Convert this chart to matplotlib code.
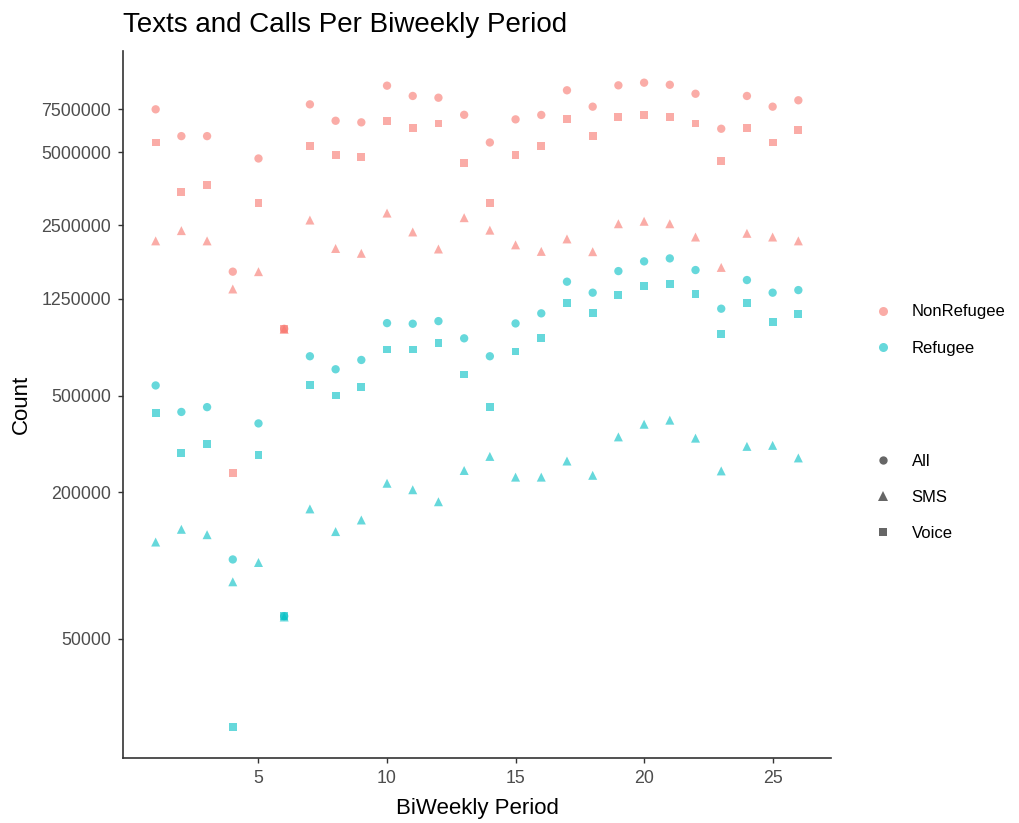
import matplotlib as mpl
mpl.use('Agg')
import matplotlib.pyplot as plt
from matplotlib.lines import Line2D

plt.rcParams['font.family'] = ['Liberation Sans', 'DejaVu Sans']

periods = list(range(1, 27))

# NonRefugee
nonref_all = [7.5e6, 5.82e6, 5.82e6, 1.614e6, 4.71e6, 9.4e5, 7.86e6, 6.73e6, 6.63e6, 9.38e6,
              8.51e6, 8.37e6, 7.12e6, 5.48e6, 6.82e6, 7.11e6, 8.98e6, 7.69e6, 9.41e6, 9.65e6,
              9.46e6, 8.69e6, 6.24e6, 8.51e6, 7.69e6, 8.17e6]
nonref_voice = [5.48e6, 3.42e6, 3.67e6, 2.41e5, 3.09e6, 9.4e5, 5.31e6, 4.88e6, 4.79e6, 6.71e6,
                6.30e6, 6.56e6, 4.51e6, 3.09e6, 4.88e6, 5.28e6, 6.84e6, 5.82e6, 6.97e6, 7.12e6,
                6.99e6, 6.56e6, 4.59e6, 6.30e6, 5.48e6, 6.18e6]
nonref_sms = [2.16e6, 2.38e6, 2.16e6, 1.37e6, 1.614e6, 9.35e5, 2.63e6, 2.01e6, 1.92e6, 2.81e6,
              2.35e6, 2.00e6, 2.69e6, 2.39e6, 2.08e6, 1.955e6, 2.20e6, 1.95e6, 2.54e6, 2.60e6,
              2.54e6, 2.24e6, 1.68e6, 2.32e6, 2.24e6, 2.16e6]

# Refugee
ref_all = [5.50e5, 4.28e5, 4.48e5, 1.06e5, 3.84e5, 6.2e4, 7.25e5, 6.41e5, 7.00e5, 9.92e5,
           9.86e5, 1.011e6, 8.59e5, 7.25e5, 9.89e5, 1.088e6, 1.468e6, 1.323e6, 1.623e6, 1.779e6,
           1.830e6, 1.639e6, 1.137e6, 1.491e6, 1.323e6, 1.356e6]
ref_voice = [4.24e5, 2.90e5, 3.16e5, 2.17e4, 2.84e5, 6.2e4, 5.53e5, 5.00e5, 5.42e5, 7.73e5,
             7.73e5, 8.20e5, 6.10e5, 4.47e5, 7.58e5, 8.59e5, 1.204e6, 1.088e6, 1.298e6, 1.404e6,
             1.431e6, 1.31e6, 8.92e5, 1.204e6, 1.006e6, 1.085e6]
ref_sms = [1.25e5, 1.41e5, 1.34e5, 8.58e4, 1.03e5, 6.15e4, 1.71e5, 1.38e5, 1.54e5, 2.18e5,
           2.05e5, 1.83e5, 2.46e5, 2.81e5, 2.31e5, 2.31e5, 2.69e5, 2.35e5, 3.38e5, 3.81e5,
           3.96e5, 3.34e5, 2.45e5, 3.09e5, 3.12e5, 2.77e5]

y_ticks = [50000, 200000, 500000, 1250000, 2500000, 5000000, 7500000]
x_ticks = [5, 10, 15, 20, 25]

red = '#F8766D'
teal = '#00BFC4'
alpha = 0.6
sizes = {'o': 36, '^': 42, 's': 32}

fig = plt.figure(figsize=(10.2, 8.23), dpi=100)
ax = fig.add_axes([0.1206, 0.079, 0.8147 - 0.1206, 0.9384 - 0.079])

series = [
    (nonref_all, red, 'o'), (nonref_sms, red, '^'), (nonref_voice, red, 's'),
    (ref_all, teal, 'o'), (ref_sms, teal, '^'), (ref_voice, teal, 's'),
]
for vals, col, mk in series:
    ax.scatter(periods, vals, color=col, marker=mk, s=sizes[mk], alpha=alpha,
               edgecolors='none', zorder=3)

ax.set_yscale('log')
ax.set_ylim(16200, 1.306e7)
ax.set_xlim(-0.27, 27.27)
ax.set_yticks(y_ticks)
ax.set_yticklabels([str(v) for v in y_ticks])
ax.yaxis.set_minor_locator(mpl.ticker.NullLocator())
ax.set_xticks(x_ticks)

for s in ['top', 'right']:
    ax.spines[s].set_visible(False)
for s in ['left', 'bottom']:
    ax.spines[s].set_color('#333333')
    ax.spines[s].set_linewidth(1.2)
ax.tick_params(axis='both', colors='#333333', labelcolor='#4D4D4D', labelsize=12.8,
               length=3.5, width=1.0, pad=5)

ax.set_xlabel('BiWeekly Period', fontsize=16, labelpad=8)
ax.set_ylabel('Count', fontsize=16, labelpad=7)
fig.text(0.1206, 1 - 31.5 / 823, 'Texts and Calls Per Biweekly Period', fontsize=20,
         ha='left', va='baseline')

# legends
leg_fs = 12
leg_kw = dict(loc='center left', frameon=False, fontsize=leg_fs, handletextpad=1.17,
              labelspacing=1.27, handlelength=1.08, borderpad=0.43)
col_handles = [Line2D([], [], marker='o', ls='none', color=c, alpha=alpha, markersize=6.5,
                      markeredgewidth=0) for c in (red, teal)]
leg1 = fig.legend(col_handles, ['NonRefugee', 'Refugee'],
                  bbox_to_anchor=(0.8418, 1 - 330 / 823), **leg_kw)

shape_handles = [Line2D([], [], marker=m, ls='none', color='black', alpha=alpha,
                        markersize=ms, markeredgewidth=0)
                 for m, ms in (('o', 6), ('^', 6.5), ('s', 6))]
leg2 = fig.legend(shape_handles, ['All', 'SMS', 'Voice'],
                  bbox_to_anchor=(0.8418, 1 - 497.5 / 823), **leg_kw)

fig.savefig('out.png', dpi=100)
